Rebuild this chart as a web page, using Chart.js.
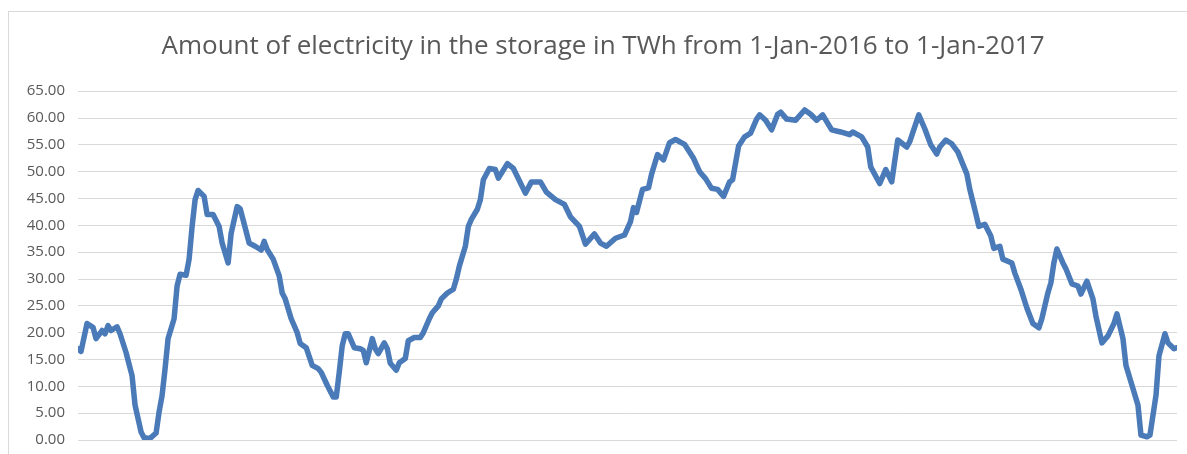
<!DOCTYPE html>
<html>
<head>
<meta charset="utf-8">
<script src="https://cdn.jsdelivr.net/npm/chart.js@4.4.1/dist/chart.umd.min.js"></script>
<style>
    html, body { margin: 0; padding: 0; background: #fff; overflow: hidden; }
    #frame {
        position: absolute; left: 8px; top: 11px;
        width: 1200px; height: 460px;
        border: 1px solid #d9d9d9;
    }
    #wrap { position: absolute; left: 0; top: 0; width: 1187px; height: 454px; overflow: hidden; }
</style>
</head>
<body>
<div id="frame"></div>
<div id="wrap"><canvas id="storageChart"></canvas></div>
<script>
// day of year (0 = 1-Jan-2016, 366 = 1-Jan-2017)
const days = [
    0, 1, 3, 5, 6, 8, 9, 10, 11, 13, 14, 16, 18, 19, 21, 22, 24, 26, 27, 28,
    29, 30, 32, 33, 34, 36, 37, 38, 39, 40, 42, 43, 45, 47, 48, 50, 51, 53, 54, 55,
    57, 59, 61, 62, 63, 65, 67, 68, 69, 71, 73, 74, 76, 78, 80, 81, 83, 85, 86, 87,
    88, 89, 90, 92, 94, 95, 96, 98, 99, 100, 102, 103, 104, 106, 107, 109, 110, 112, 114, 115,
    117, 118, 120, 121, 123, 125, 126, 127, 129, 130, 131, 133, 134, 135, 137, 139, 140, 143, 145, 149,
    151, 154, 156, 159, 162, 164, 167, 169, 172, 174, 176, 179, 182, 184, 185, 186, 188, 190, 191, 193,
    195, 197, 199, 202, 205, 207, 209, 211, 213, 215, 217, 218, 220, 222, 224, 226, 227, 229, 231, 233,
    234, 236, 239, 242, 244, 246, 248, 251, 254, 257, 258, 261, 263, 264, 267, 269, 271, 273, 276, 277,
    280, 282, 284, 286, 287, 289, 291, 293, 296, 297, 299, 300, 302, 304, 305, 307, 308, 311, 312, 314,
    316, 318, 320, 321, 323, 324, 325, 326, 328, 329, 331, 333, 334, 336, 338, 339, 341, 343, 345, 346,
    348, 349, 351, 353, 354, 356, 357, 359, 360, 362, 363, 365, 366
];

// TWh in storage
const storageTwh = [
    17.0, 16.5, 21.7, 21.0, 18.9, 20.4, 19.8, 21.3, 20.4, 21.1, 19.8, 16.3, 12.0, 6.5, 1.5, 0.4, 0.3, 1.3, 5.2, 8.3,
    13.3, 18.9, 22.6, 28.7, 30.9, 30.7, 33.7, 39.8, 44.8, 46.5, 45.4, 42.0, 42.0, 39.8, 36.7, 33.0, 38.5, 43.5, 43.1, 41.0,
    36.7, 36.1, 35.4, 37.0, 35.5, 33.7, 30.6, 27.4, 26.3, 22.6, 20.0, 18.0, 17.2, 13.9, 13.3, 12.6, 10.2, 8.0, 8.0, 12.6,
    17.6, 19.8, 19.8, 17.2, 17.0, 16.7, 14.4, 18.9, 17.0, 16.1, 18.1, 17.0, 14.3, 13.0, 14.4, 15.2, 18.5, 19.1, 19.1, 20.0,
    22.6, 23.7, 25.0, 26.3, 27.4, 28.1, 30.0, 32.4, 36.1, 39.8, 41.1, 43.0, 44.8, 48.5, 50.6, 50.4, 48.8, 51.5, 50.6, 46.0,
    48.1, 48.1, 46.2, 44.8, 43.9, 41.6, 39.8, 36.5, 38.4, 36.7, 36.1, 37.6, 38.2, 40.7, 43.3, 42.4, 46.7, 47.0, 49.5, 53.2,
    52.2, 55.4, 56.0, 55.1, 52.5, 50.0, 48.7, 46.9, 46.7, 45.4, 48.1, 48.5, 54.8, 56.5, 57.2, 59.8, 60.6, 59.6, 57.8, 60.7,
    61.1, 59.8, 59.6, 61.5, 60.7, 59.6, 60.6, 57.8, 57.4, 56.9, 57.4, 56.5, 54.6, 50.9, 47.8, 50.4, 48.1, 55.9, 54.6, 55.6,
    60.6, 58.0, 55.0, 53.3, 54.6, 55.9, 55.2, 53.7, 49.6, 46.7, 42.2, 39.8, 40.2, 38.0, 35.7, 36.1, 33.7, 33.0, 31.1, 28.1,
    24.6, 21.7, 20.9, 22.6, 27.4, 29.3, 33.0, 35.6, 33.0, 31.9, 29.1, 28.7, 27.2, 29.6, 26.3, 23.1, 18.1, 19.4, 21.7, 23.5,
    18.9, 13.9, 10.2, 6.5, 0.9, 0.6, 0.9, 8.3, 15.7, 19.8, 18.1, 17.0, 17.2
];

const yTicks = [0, 5, 10, 15, 20, 25, 30, 35, 40, 45, 50, 55, 60, 65];

const points = days.map(function (d, i) { return { x: d, y: storageTwh[i] }; });

// canvas a bit taller than the window: the frame runs past the bottom edge
const canvas = document.getElementById('storageChart');
canvas.width = 1187;
canvas.height = 462;

// the title is centred on the whole frame, not on the plot; nudge its box after layout
const centreTitle = {
    id: 'centreTitle',
    afterLayout: function (chart) {
        if (chart.titleBlock) {
            chart.titleBlock.left = 29;
            chart.titleBlock.width = chart.titleBlock.right - 29;
        }
    }
};

new Chart(canvas.getContext('2d'), {
    type: 'line',
    data: {
        datasets: [{
            label: 'Storage',
            data: points,
            borderColor: '#4a7ab8',
            borderWidth: 5.5,
            pointRadius: 0,
            tension: 0,
            borderJoinStyle: 'round',
            borderCapStyle: 'round'
        }]
    },
    options: {
        responsive: false,
        animation: false,
        layout: { padding: { left: 0, right: 10, top: 0, bottom: 6 } },
        plugins: {
            legend: { display: false },
            tooltip: { enabled: false },
            title: {
                display: true,
                text: 'Amount of electricity in the storage in TWh from 1-Jan-2016 to 1-Jan-2017',
                color: '#595959',
                font: { family: 'Open Sans', size: 26, weight: 'normal' },
                padding: { top: 31, bottom: 29 }
            }
        },
        scales: {
            x: {
                type: 'linear',
                min: 0,
                max: 366,
                display: false
            },
            y: {
                min: 0,
                max: 65,
                afterBuildTicks: function (scale) {
                    scale.ticks = yTicks.map(function (v) { return { value: v }; });
                },
                afterFit: function (scale) { scale.width = 78; },
                border: { display: false },
                grid: { color: '#d9d9d9', lineWidth: 1, drawTicks: false },
                ticks: {
                    color: '#595959',
                    padding: 13,
                    font: { family: 'Open Sans', size: 15 },
                    callback: function (v) { return v.toFixed(2); }
                }
            }
        }
    },
    plugins: [centreTitle]
});
</script>
</body>
</html>
